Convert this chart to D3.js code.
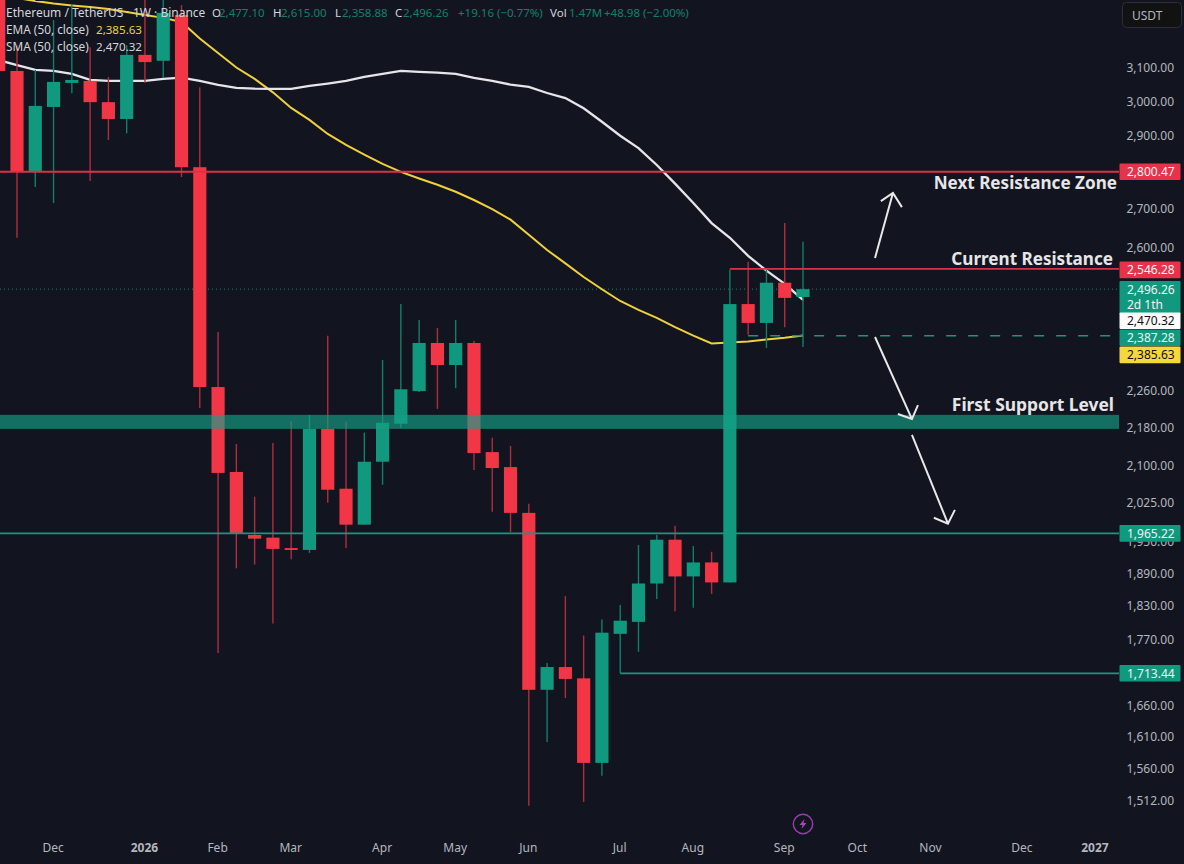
<!DOCTYPE html>
<html>
<head>
<meta charset="utf-8">
<script src="https://cdn.jsdelivr.net/npm/d3@7"></script>
<style>
    html, body { margin: 0; padding: 0; background: #12151f; overflow: hidden; }
    svg { display: block; }
    text { font-family: "Noto Sans", sans-serif; }
</style>
</head>
<body>
<div id="chart"></div>
<script>
// weekly bars, first one is mostly off the left edge
const firstWeek = "2025-11-10"
const opens = [3450, 3091, 2800, 2984, 3055, 3061, 2998, 2949, 3140, 3122, 3265, 2813, 2268, 2087, 1962, 1957, 1937, 1933.5, 2177, 2053, 1982, 2108, 2188, 2259, 2368, 2317.5, 2368, 2128, 2097, 2005, 1686, 1724, 1705, 1569.5, 1781, 1802, 1871, 1953, 1884, 1910, 1873, 2460, 2415, 2512, 2477.1]
const highs = [3500, 3170, 3094, 3249, 3300, 3164, 3073, 3170, 3320, 3320, 3297, 3042, 2393.5, 2145, 2037, 2147, 2194, 2207, 2385, 2192, 2169, 2329, 2460, 2422, 2403, 2422, 2373, 2158, 2141, 2023, 1731, 1848, 1778, 1806, 1832, 1943, 1962, 1980, 1941, 1930, 2544, 2564, 2544, 2663.6, 2615]
const lows = [3050, 2625, 2759, 2716, 3024, 2775, 2889, 2908, 3055, 3070, 2786, 2222, 1748, 1899, 1906, 1799, 1916, 1928, 2025, 1937, 1982, 2061, 2179, 2257, 2220, 2265.5, 2091, 2007, 1968, 1505, 1602, 1672.5, 1510.6, 1550, 1714, 1750, 1843, 1821, 1827, 1852, 1873, 2387, 2356.5, 2405, 2358.88]
const closes = [3091, 2800, 2987, 3058, 3064, 2998, 2949, 3140, 3118, 3272, 2813, 2268, 2085, 1966, 1955, 1935.5, 1933.5, 2177, 2051, 1982, 2108, 2190, 2263, 2368, 2317.5, 2368, 2126, 2095, 2005, 1686, 1724, 1704, 1569.5, 1783, 1804, 1871, 1953, 1884, 1910, 1873, 2460, 2415, 2512, 2475, 2496.26]

const sma50 = [3124, 3109, 3094, 3091, 3082, 3064, 3061, 3061, 3061, 3067, 3071, 3061, 3049, 3040, 3038, 3037.5, 3037, 3046, 3053, 3061, 3073, 3082, 3091, 3088, 3086, 3082, 3070, 3061, 3050, 3043, 3025, 3010, 2980, 2941, 2901, 2866, 2819, 2768, 2716, 2663, 2625, 2579, 2542, 2509, 2470.32]
const ema50 = [3345, 3320, 3310, 3302, 3296, 3291, 3284.5, 3275, 3265, 3256, 3243, 3191, 3146, 3101.5, 3067, 3027, 2981, 2946.5, 2906, 2875, 2848, 2822, 2800, 2782, 2765, 2746, 2724, 2700, 2672, 2633, 2594, 2560, 2526, 2496, 2467.5, 2446, 2427, 2405, 2385, 2367, 2369, 2371.5, 2376, 2380, 2385.63]

const priceTicks = [3100, 3000, 2900, 2700, 2600, 2260, 2180, 2100, 2025, 1950, 1890, 1830, 1770, 1660, 1610, 1560, 1512]
const monthTicks = ["2025-12-01", "2026-01-05", "2026-02-02", "2026-03-02", "2026-04-06", "2026-05-04", "2026-06-01", "2026-07-06", "2026-08-03", "2026-09-07", "2026-10-05", "2026-11-02", "2026-12-07", "2027-01-04"]
const monthLabels = ["Dec", "2026", "Feb", "Mar", "Apr", "May", "Jun", "Jul", "Aug", "Sep", "Oct", "Nov", "Dec", "2027"]

const supportBand = [2177, 2207]
const resistanceTop = 2800.47
const resistanceNow = 2546.28
const supportLow = 1965.22
const supportOld = 1713.44
const dashedLevel = 2387.28
const lastPrice = 2496.26

const upColor = "#10997f"
const downColor = "#f23645"
const lineGreen = "#1c9580"
const lineRed = "#dc3048"

const width = 1184
const height = 864
const priceEdge = 1119

const svg = d3.select("#chart").append("svg")
    .attr("width", width)
    .attr("height", height)

svg.append("rect")
    .attr("width", width)
    .attr("height", height)
    .attr("fill", "#12151f")

const weeks = opens.map((d, i) => d3.utcWeek.offset(new Date(firstWeek + "T00:00:00Z"), i))

const x = d3.scaleUtc()
    .domain([weeks[0], weeks[weeks.length - 1]])
    .range([-1.28, 803])

const y = d3.scaleLog()
    .domain([1512, 3100])
    .range([801, 68])

const step = x(weeks[1]) - x(weeks[0])
const bodyWidth = step * 0.72
const bars = weeks.map((d, i) => ({ date: d, o: opens[i], h: highs[i], l: lows[i], c: closes[i] }))
const barColor = d => d.c >= d.o ? upColor : downColor

// bar number (from the first full week) to x, for the hand drawn arrows
const xBar = n => x(weeks[0]) + (n + 1) * step

const plot = svg.append("g")

// dotted last price line
plot.append("line")
    .attr("x1", 0).attr("x2", priceEdge)
    .attr("y1", y(lastPrice)).attr("y2", y(lastPrice))
    .attr("stroke", "#1a7f6e")
    .attr("stroke-width", 1)
    .attr("stroke-dasharray", "1 3")

const lineFor = d3.line()
    .x((d, i) => x(weeks[i]))
    .y(d => y(d))

plot.append("path")
    .attr("d", lineFor(ema50))
    .attr("fill", "none")
    .attr("stroke", "#f0d03c")
    .attr("stroke-width", 2)

plot.append("path")
    .attr("d", lineFor(sma50))
    .attr("fill", "none")
    .attr("stroke", "#e6e6ea")
    .attr("stroke-width", 2.3)

plot.selectAll("line.wick")
    .data(bars)
    .enter().append("line")
    .attr("class", "wick")
    .attr("x1", d => x(d.date))
    .attr("x2", d => x(d.date))
    .attr("y1", d => y(d.h))
    .attr("y2", d => y(d.l))
    .attr("stroke", d => d.c >= d.o ? "#0f7f6c" : "#b22c40")
    .attr("stroke-width", 1.4)

plot.selectAll("rect.body")
    .data(bars)
    .enter().append("rect")
    .attr("class", "body")
    .attr("x", d => x(d.date) - bodyWidth / 2)
    .attr("width", bodyWidth)
    .attr("y", d => y(Math.max(d.o, d.c)))
    .attr("height", d => Math.max(1.5, Math.abs(y(d.o) - y(d.c))))
    .attr("fill", barColor)

// levels sit on top of the candles
plot.append("rect")
    .attr("x", 0)
    .attr("width", priceEdge)
    .attr("y", y(supportBand[1]))
    .attr("height", y(supportBand[0]) - y(supportBand[1]))
    .attr("fill", "#14a085")
    .attr("opacity", 0.65)

const levels = [
    { price: resistanceTop, from: null, color: lineRed },
    { price: resistanceNow, from: weeks[40], color: lineRed },
    { price: supportLow, from: null, color: lineGreen },
    { price: supportOld, from: weeks[34], color: lineGreen }
]

plot.selectAll("line.level")
    .data(levels)
    .enter().append("line")
    .attr("class", "level")
    .attr("x1", d => d.from ? x(d.from) : 0)
    .attr("x2", priceEdge)
    .attr("y1", d => y(d.price))
    .attr("y2", d => y(d.price))
    .attr("stroke", d => d.color)
    .attr("stroke-width", 1.8)

plot.append("line")
    .attr("x1", x(weeks[41])).attr("x2", priceEdge)
    .attr("y1", y(dashedLevel) + 1).attr("y2", y(dashedLevel) + 1)
    .attr("stroke", lineGreen)
    .attr("stroke-width", 1.6)
    .attr("stroke-dasharray", "10 12")

// arrows: tail, tip, head left, head right as [bar, price]
const arrowUp = [[46.94, 2573.6], [47.92, 2743], [47.26, 2721], [48.41, 2705]]
const arrowDown1 = [[46.94, 2382], [48.96, 2198], [48.19, 2209], [49.29, 2228]]
const arrowDown2 = [[48.96, 2164], [50.93, 1984], [50.16, 1995.5], [51.31, 2011]]

const pt = p => [xBar(p[0]), y(p[1])]
const arrowPath = a => "M" + pt(a[0]) + "L" + pt(a[1]) + "M" + pt(a[2]) + "L" + pt(a[1]) + "L" + pt(a[3])

plot.selectAll("path.arrow")
    .data([arrowUp, arrowDown1, arrowDown2])
    .enter().append("path")
    .attr("class", "arrow")
    .attr("d", arrowPath)
    .attr("fill", "none")
    .attr("stroke", "#e8e8ea")
    .attr("stroke-width", 2)

const notes = [
    { text: "Next Resistance Zone", right: 1117, base: 189, size: 17.1 },
    { text: "Current Resistance", right: 1113, base: 265, size: 17.1 },
    { text: "First Support Level", right: 1114, base: 411, size: 17.4 }
]

svg.selectAll("text.note")
    .data(notes)
    .enter().append("text")
    .attr("class", "note")
    .attr("x", d => d.right)
    .attr("y", d => d.base)
    .attr("text-anchor", "end")
    .attr("fill", "#e6e6e8")
    .attr("font-size", d => d.size)
    .attr("font-weight", 700)
    .text(d => d.text)

// axes
const yAxis = svg.append("g")
    .attr("transform", "translate(1174,0)")
    .call(d3.axisRight(y)
        .tickValues(priceTicks)
        .tickFormat(d3.format(",.2f"))
        .tickSize(0)
        .tickPadding(0))
yAxis.select(".domain").remove()
yAxis.selectAll("text")
    .attr("text-anchor", "end")
    .attr("fill", "#b4b7bf")
    .attr("font-size", 12)
    .style("font-family", "'Noto Sans', sans-serif")

const xAxis = svg.append("g")
    .attr("transform", "translate(-1,843)")
    .call(d3.axisBottom(x)
        .tickValues(monthTicks.map(d => new Date(d + "T00:00:00Z")))
        .tickFormat((d, i) => monthLabels[i])
        .tickSize(0)
        .tickPadding(0))
xAxis.select(".domain").remove()
xAxis.selectAll("text")
    .attr("fill", "#b4b7bf")
    .attr("font-size", 12)
    .attr("font-weight", (d, i) => /^20/.test(monthLabels[i]) ? 700 : 400)
    .style("font-family", "'Noto Sans', sans-serif")

// price tags on the right, nudged so they do not overlap
const tags = [
    { price: supportLow, label: ["1,965.22"], fill: "#10997f", ink: "#f2f2f2", shift: 0 },
    { price: supportOld, label: ["1,713.44"], fill: "#10997f", ink: "#f2f2f2", shift: 0 },
    { price: resistanceTop, label: ["2,800.47"], fill: "#e8324a", ink: "#f6f6f6", shift: 0 },
    { price: resistanceNow, label: ["2,546.28"], fill: "#e8324a", ink: "#f6f6f6", shift: 1 },
    { price: lastPrice, label: ["2,496.26", "2d 1th"], fill: "#10997f", ink: "#f2f2f2", shift: 8.5 },
    { price: 2470.32, label: ["2,470.32"], fill: "#fbfbfb", ink: "#111111", shift: 21 },
    { price: dashedLevel, label: ["2,387.28"], fill: "#10997f", ink: "#f2f2f2", shift: 3 },
    { price: 2385.63, label: ["2,385.63"], fill: "#f5d83a", ink: "#111111", shift: 19.5 }
]

const tag = svg.selectAll("g.tag")
    .data(tags)
    .enter().append("g")
    .attr("class", "tag")
    .attr("transform", d => `translate(1119.5,${y(d.price) + d.shift})`)

tag.append("rect")
    .attr("x", 0)
    .attr("width", 61)
    .attr("y", d => -d.label.length * 8.3)
    .attr("height", d => d.label.length * 16.6)
    .attr("rx", 1)
    .attr("fill", d => d.fill)

tag.each(function(d) {
    d3.select(this).selectAll("text")
        .data(d.label)
        .enter().append("text")
        .attr("x", 7.5)
        .attr("y", (t, i) => (i - (d.label.length - 1) / 2) * 15 + 4.2)
        .attr("fill", d.ink)
        .attr("font-size", 12)
        .text(t => t)
})

// header
const headerGreen = "#12806e"
const header = [
    { text: "Ethereum / TetherUS · 1W · Binance", x: 6, fill: "#d4d6dc", size: 12 },
    { text: "O", x: 212, fill: "#d4d6dc", size: 11.5 },
    { text: "2,477.10", x: 219, fill: headerGreen, size: 11.5 },
    { text: "H", x: 273, fill: "#d4d6dc", size: 11.5 },
    { text: "2,615.00", x: 281, fill: headerGreen, size: 11.5 },
    { text: "L", x: 335, fill: "#d4d6dc", size: 11.5 },
    { text: "2,358.88", x: 342, fill: headerGreen, size: 11.5 },
    { text: "C", x: 395, fill: "#d4d6dc", size: 11.5 },
    { text: "2,496.26", x: 403, fill: headerGreen, size: 11.5 },
    { text: "+19.16 (−0.77%)", x: 458, fill: headerGreen, size: 11.5 },
    { text: "Vol", x: 550, fill: "#d4d6dc", size: 11.5 },
    { text: "1.47M", x: 569, fill: headerGreen, size: 11.5 },
    { text: "+48.98 (−2.00%)", x: 604, fill: headerGreen, size: 11.5 }
]

svg.selectAll("text.head")
    .data(header)
    .enter().append("text")
    .attr("class", "head")
    .attr("x", d => d.x)
    .attr("y", 17)
    .attr("fill", d => d.fill)
    .attr("font-size", d => d.size)
    .text(d => d.text)

const legend = [
    { name: "EMA (50, close)", value: "2,385.63", fill: "#f0d03c", base: 34 },
    { name: "SMA (50, close)", value: "2,470.32", fill: "#d8d8dc", base: 51 }
]

svg.selectAll("text.legendName")
    .data(legend)
    .enter().append("text")
    .attr("class", "legendName")
    .attr("x", 6)
    .attr("y", d => d.base)
    .attr("fill", "#d4d6dc")
    .attr("font-size", 11.8)
    .text(d => d.name)

svg.selectAll("text.legendValue")
    .data(legend)
    .enter().append("text")
    .attr("class", "legendValue")
    .attr("x", 96)
    .attr("y", d => d.base)
    .attr("fill", d => d.fill)
    .attr("font-size", 11.6)
    .text(d => d.value)

// currency button
svg.append("rect")
    .attr("x", 1122.5).attr("y", 2.5)
    .attr("width", 59).attr("height", 25)
    .attr("rx", 4)
    .attr("fill", "#121212")
    .attr("stroke", "#2c2f38")

svg.append("text")
    .attr("x", 1132).attr("y", 19.5)
    .attr("fill", "#b4b7bf")
    .attr("font-size", 12)
    .text("USDT")

// lightning marker under the last bar
const bolt = svg.append("g")
    .attr("transform", `translate(${x(weeks[weeks.length - 1])},824)`)

bolt.append("circle")
    .attr("r", 9.7)
    .attr("fill", "none")
    .attr("stroke", "#9a3fae")
    .attr("stroke-width", 1.4)

bolt.append("path")
    .attr("d", "M1.5,-5 L-3.5,1 L-0.5,1 L-1.5,5 L3.5,-1 L0.5,-1 Z")
    .attr("fill", "#a845bd")
</script>
</body>
</html>
